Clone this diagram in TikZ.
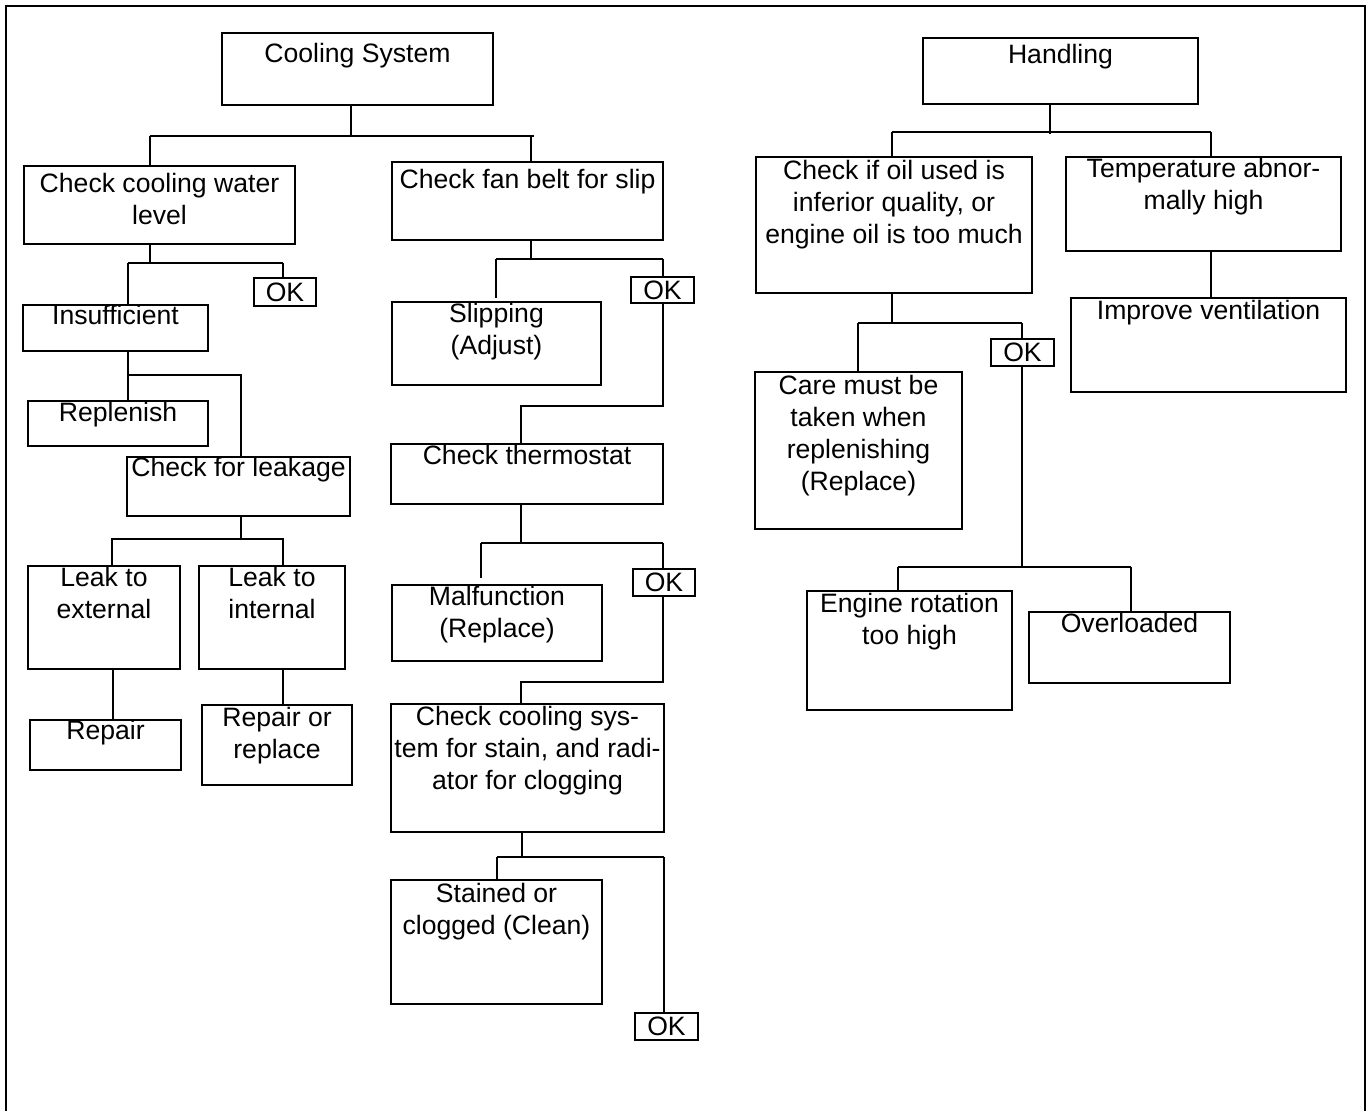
\documentclass[tikz,border=0pt]{standalone}
\usepackage{fontspec}
\setmainfont{Liberation Sans}
% box from corner coordinates: name, x1, y1, x2, y2, style, text
\newcommand{\bx}[7]{%
  \node[#6, minimum width={(#4-#2)*0.5pt}, minimum height={(#5-#3)*0.5pt}]
    (#1) at ({(#2+#4)/2},{(#3+#5)/2}) {#7};}
% text hanging from the top edge of a box: box name, drop, text
\newcommand{\tx}[3]{%
  \node[txt] (#1-t) at ([yshift={-(#2)*0.5pt}]#1.north) {\strut #3};}
\begin{document}
\begin{tikzpicture}[x=0.5pt,y=-0.5pt,
  box/.style={draw, rectangle, line width=0.65pt, inner sep=0pt},
  okbox/.style={box, font=\fontsize{13.3}{16}\selectfont},
  txt/.style={font=\fontsize{13.3}{16}\selectfont, align=center, inner sep=0pt, anchor=north},
  link/.style={line width=0.65pt},
  thicklink/.style={line width=1.1pt},
  frame/.style={line width=1pt}]
\useasboundingbox (0,0) rectangle (1369,1111);

% outer frame, open at the bottom
\coordinate (fbl) at (5.5,1111);
\coordinate (ftl) at (5.5,6);
\coordinate (ftr) at (1364.5,6);
\coordinate (fbr) at (1364.5,1111);
\draw[frame] (fbl) -- (ftl) -- (ftr) -- (fbr);

% ---------------- Cooling system tree ----------------
\bx{cs}{222}{33}{493}{105}{box}{}      \tx{cs}{7}{Cooling System}
\bx{ccwl}{24}{166}{295}{244}{box}{}    \tx{ccwl}{4}{Check cooling water\\level}
\bx{fan}{392}{162}{663}{240}{box}{}    \tx{fan}{4}{Check fan belt for slip}
\bx{ok1}{254}{278}{316}{306}{okbox}{OK}
\bx{insuf}{23}{305}{208}{351}{box}{}   \tx{insuf}{-3}{Insufficient}
\bx{slip}{392}{302}{601}{385}{box}{}   \tx{slip}{-2}{Slipping\\(Adjust)}
\bx{ok2}{631}{277}{694}{303}{okbox}{OK}
\bx{repl}{28}{401}{208}{446}{box}{}    \tx{repl}{-2}{Replenish}
\bx{leak}{127}{457}{350}{516}{box}{}   \tx{leak}{-3}{Check for leakage}
\bx{ext}{28}{566}{180}{669}{box}{}     \tx{ext}{-2}{Leak to\\external}
\bx{int}{199}{566}{345}{669}{box}{}    \tx{int}{-2}{Leak to\\internal}
\bx{rep}{30}{720}{181}{770}{box}{}     \tx{rep}{-3}{Repair}
\bx{ror}{202}{705}{352}{785}{box}{}    \tx{ror}{-1}{Repair or\\replace}
\bx{thermo}{391}{444}{663}{504}{box}{} \tx{thermo}{-2}{Check thermostat}
\bx{ok3}{633}{569}{695}{596}{okbox}{OK}
\bx{mal}{392}{585}{602}{661}{box}{}    \tx{mal}{-2}{Malfunction\\(Replace)}
\bx{ccs}{391}{704}{664}{832}{box}{}    \tx{ccs}{-1}{Check cooling sys-\\tem for stain, and radi-\\ator for clogging}
\bx{stain}{391}{880}{602}{1004}{box}{} \tx{stain}{0}{Stained or\\clogged (Clean)}
\bx{ok4}{635}{1013}{698}{1040}{okbox}{OK}

% Cooling System -> first checks
\coordinate (j1) at (351,136);
\coordinate (j1l) at (150,136);
\coordinate (j1r) at (531,136);
\coordinate (j1e) at (534,136);
\draw[link] (cs.south -| j1) -- (j1);
\draw[link] (j1l) -- (j1e);
\draw[link] (j1l) -- (j1l |- ccwl.north);
\draw[link] (j1r) -- (j1r |- fan.north);

% water level -> Insufficient / OK
\coordinate (j2) at (150,264);
\coordinate (j2l) at (128,263);
\coordinate (j2r) at (283,263);
\draw[link] (ccwl.south -| j2) -- (j2);
\draw[link] (j2l) -- (j2r);
\draw[link] (j2l) -- (j2l |- insuf.north);
\draw[link] (j2r) -- (j2r |- ok1.north);

% Insufficient -> Replenish / leakage check
\coordinate (j3) at (128,375);
\coordinate (j3r) at (241,375);
\draw[link] (insuf.south -| j3) -- (j3 |- repl.north);
\draw[link] (j3) -- (j3r) -- (j3r |- leak.north);

% leakage -> external / internal
\coordinate (j4) at (241,539);
\coordinate (j4l) at (112,539);
\coordinate (j4r) at (283,539);
\draw[link] (leak.south -| j4) -- (j4);
\draw[thicklink] (j4l |- ext.north) -- (j4l) -- (j4);
\draw[link] (j4) -- (j4r) -- (j4r |- int.north);

% remedies
\coordinate (j5) at (113,700);
\coordinate (j6) at (283,690);
\draw[link] (ext.south -| j5) -- (j5 |- rep.north);
\draw[link] (int.south -| j6) -- (j6 |- ror.north);

% fan belt -> Slipping / OK
\coordinate (j7) at (531,259);
\coordinate (j7l) at (496,259);
\coordinate (j7r) at (663,259);
\coordinate (s1) at (496,298);
\draw[link] (fan.south -| j7) -- (j7);
\draw[link] (j7l) -- (j7r);
\draw[link] (j7l) -- (s1);
\draw[link] (j7r) -- (j7r |- ok2.north);

% OK -> thermostat
\coordinate (j8) at (663,406);
\coordinate (j8l) at (521,406);
\draw[link] (ok2.south -| j8) -- (j8) -- (j8l) -- (j8l |- thermo.north);

% thermostat -> Malfunction / OK
\coordinate (j9) at (521,543);
\coordinate (j9l) at (481,543);
\coordinate (j9r) at (663,543);
\coordinate (s2) at (481,578);
\draw[link] (thermo.south -| j9) -- (j9);
\draw[link] (j9l) -- (j9r);
\draw[link] (j9l) -- (s2);
\draw[link] (j9r) -- (j9r |- ok3.north);

% OK -> stain / clogging check
\coordinate (j10) at (663,682);
\coordinate (j10l) at (521,682);
\draw[link] (ok3.south -| j10) -- (j10) -- (j10l) -- (j10l |- ccs.north);

% stain check -> Stained / OK
\coordinate (j11) at (522,857);
\coordinate (j11l) at (497,857);
\coordinate (j11r) at (664,857);
\draw[link] (ccs.south -| j11) -- (j11);
\draw[link] (j11l) -- (j11r);
\draw[link] (j11l) -- (j11l |- stain.north);
\draw[link] (j11r) -- (j11r |- ok4.north);

% ---------------- Handling tree ----------------
\bx{hand}{923}{38}{1198}{104}{box}{}    \tx{hand}{3}{Handling}
\bx{oil}{756}{157}{1032}{293}{box}{}    \tx{oil}{0}{Check if oil used is\\inferior quality, or\\engine oil is too much}
\bx{temp}{1066}{157}{1341}{251}{box}{}  \tx{temp}{-2}{Temperature abnor-\\mally high}
\bx{vent}{1071}{298}{1346}{392}{box}{}  \tx{vent}{-1}{Improve ventilation}
\bx{ok5}{991}{339}{1054}{366}{okbox}{OK}
\bx{care}{755}{372}{962}{529}{box}{}    \tx{care}{0}{Care must be\\taken when\\replenishing\\(Replace)}
\bx{eng}{807}{591}{1012}{710}{box}{}    \tx{eng}{-1}{Engine rotation\\too high}
\bx{over}{1029}{612}{1230}{683}{box}{}  \tx{over}{-2}{Overloaded}

% Handling -> oil check / temperature
\coordinate (j12) at (1050,134);
\coordinate (j12l) at (892,132);
\coordinate (j12r) at (1211,132);
\draw[link] (hand.south -| j12) -- (j12);
\draw[link] (j12l) -- (j12r);
\draw[link] (j12l) -- (j12l |- oil.north);
\draw[link] (j12r) -- (j12r |- temp.north);
\draw[link] (temp.south -| j12r) -- (j12r |- vent.north);

% oil check -> Care / OK
\coordinate (j13) at (892,324);
\coordinate (j13l) at (858,323);
\coordinate (j13r) at (1022,323);
\draw[link] (oil.south -| j13) -- (j13);
\draw[link] (j13l) -- (j13r);
\draw[link] (j13l) -- (j13l |- care.north);
\draw[link] (j13r) -- (j13r |- ok5.north);

% OK -> Engine rotation / Overloaded
\coordinate (j14) at (1022,567);
\coordinate (j14l) at (898,567);
\coordinate (j14r) at (1131,567);
\draw[link] (ok5.south -| j14) -- (j14);
\draw[link] (j14l) -- (j14r);
\draw[link] (j14l) -- (j14l |- eng.north);
\draw[link] (j14r) -- (j14r |- over.north);
\end{tikzpicture}
\end{document}
